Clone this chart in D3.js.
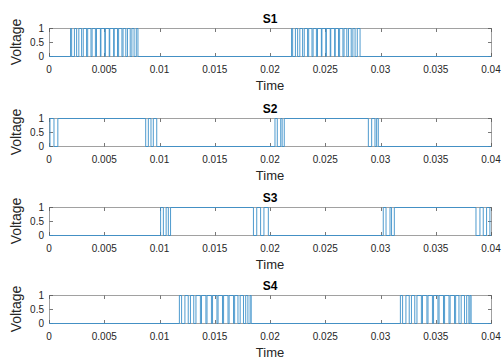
<!DOCTYPE html>
<html><head><meta charset="utf-8">
<script src="https://cdn.jsdelivr.net/npm/d3@7"></script>
<style>body{margin:0;background:#fff}svg{display:block}text{font-family:"Liberation Sans",Arial,sans-serif}</style>
</head><body><div id="chart"></div>
<script>
const titles = ["S1","S2","S3","S4"];
const xTicks = [0,0.005,0.01,0.015,0.02,0.025,0.03,0.035,0.04];
const xTickLabels = ["0","0.005","0.01","0.015","0.02","0.025","0.03","0.035","0.04"];
const yTicks = [0,0.5,1];
const yTickLabels = ["0","0.5","1"];
// intervals [start,end] in seconds where the signal equals 1
const s1On = [[0.00195,0.00205],[0.0023,0.0025],[0.0027,0.00295],[0.0031,0.0034],[0.0035,0.0038],[0.0039,0.0042],[0.0043,0.00465],[0.0047,0.00505],[0.0051,0.00545],[0.0055,0.00585],[0.0059,0.0062],[0.0063,0.0066],[0.0067,0.00695],[0.0071,0.00735],[0.0075,0.0077],[0.0079,0.00805],
  [0.02195,0.02205],[0.0223,0.0225],[0.0227,0.02295],[0.0231,0.0234],[0.0235,0.0238],[0.0239,0.0242],[0.0243,0.02465],[0.0247,0.02505],[0.0251,0.02545],[0.0255,0.02585],[0.0259,0.0262],[0.0263,0.0266],[0.0267,0.02695],[0.0271,0.02735],[0.0275,0.0277],[0.0279,0.02815]];
const s2On = [[0.00009,0.00045],[0.0008,0.00875],[0.00899,0.00923],[0.00944,0.00975],
  [0.02045,0.02066],[0.02097,0.0211],[0.02129,0.0289],[0.0292,0.0295],[0.02965,0.0298]];
const s3On = [[0.0101,0.01035],[0.0106,0.0108],[0.0110,0.0185],[0.0188,0.01915],[0.01945,0.01985],
  [0.03025,0.0305],[0.03086,0.0310],[0.03125,0.03864],[0.0390,0.0393],[0.0396,0.0399]];
const s4On = [[0.0118,0.0120],[0.0123,0.0126],[0.0128,0.0131],[0.0133,0.0137],[0.0138,0.0142],[0.0143,0.0147],[0.0148,0.0152],[0.0153,0.0157],[0.0158,0.0162],[0.0163,0.0167],[0.0168,0.0171],[0.0173,0.0176],[0.0178,0.0180],[0.0182,0.0183],
  [0.0318,0.0320],[0.0323,0.0326],[0.0328,0.0331],[0.0333,0.0337],[0.0338,0.0342],[0.0343,0.0347],[0.0348,0.0352],[0.0353,0.0357],[0.0358,0.0362],[0.0363,0.0367],[0.0368,0.0371],[0.0373,0.0376],[0.0378,0.0380],[0.0381,0.0382]];
const signals = [s1On, s2On, s3On, s4On];

const W = 504, H = 362;
const left = 49, right = 491, plotH = 28;
const tops = [28, 118, 207, 295];
const lineColor = "#3a8fc8";
const svg = d3.select("#chart").append("svg").attr("width", W).attr("height", H);
const x = d3.scaleLinear().domain([0, 0.04]).range([left, right]);

signals.forEach((on, i) => {
  const top = tops[i];
  const y = d3.scaleLinear().domain([0, 1]).range([top + plotH, top]);
  const g = svg.append("g");
  g.append("rect").attr("x", left + 0.5).attr("y", top + 0.5).attr("width", right - left).attr("height", plotH)
    .attr("fill", "#fff").attr("stroke", "#8a8a8a").attr("stroke-width", 0.8);
  xTicks.forEach(t => {
    const xx = Math.round(x(t)) + 0.5;
    g.append("line").attr("x1", xx).attr("x2", xx).attr("y1", top + plotH + 0.5).attr("y2", top + plotH - 3).attr("stroke", "#555").attr("stroke-width", 0.8);
    g.append("line").attr("x1", xx).attr("x2", xx).attr("y1", top + 0.5).attr("y2", top + 4).attr("stroke", "#555").attr("stroke-width", 0.8);
  });
  yTicks.forEach(t => {
    const yy = Math.round(y(t)) + 0.5;
    g.append("line").attr("x1", left + 0.5).attr("x2", left + 4).attr("y1", yy).attr("y2", yy).attr("stroke", "#555").attr("stroke-width", 0.8);
    g.append("line").attr("x1", right + 0.5).attr("x2", right - 3).attr("y1", yy).attr("y2", yy).attr("stroke", "#555").attr("stroke-width", 0.8);
  });
  const pts = [[0, 0]];
  on.forEach(([s, e]) => { pts.push([s, 0], [s, 1], [e, 1], [e, 0]); });
  pts.push([0.04, 0]);
  const line = d3.line().x(d => x(d[0])).y(d => y(d[1]) + 0.5);
  g.append("path").attr("d", line(pts)).attr("fill", "none").attr("stroke", lineColor).attr("stroke-width", 0.9);
  g.selectAll(".xl").data(xTicks).enter().append("text")
    .attr("x", d => x(d)).attr("y", top + plotH + 17).attr("text-anchor", "middle")
    .attr("font-size", 10).attr("fill", "#262626").text((d, j) => xTickLabels[j]);
  g.selectAll(".yl").data(yTicks).enter().append("text")
    .attr("x", left - 5).attr("y", d => y(d) + 3.5).attr("text-anchor", "end")
    .attr("font-size", 10).attr("fill", "#262626").text((d, j) => yTickLabels[j]);
  g.append("text").attr("x", (left + right) / 2).attr("y", top - 5).attr("text-anchor", "middle")
    .attr("font-size", 12).attr("font-weight", "bold").attr("fill", "#000").text(titles[i]);
  g.append("text").attr("x", (left + right) / 2).attr("y", top + plotH + 34).attr("text-anchor", "middle")
    .attr("font-size", 13).attr("fill", "#262626").text("Time");
  g.append("text").attr("transform", `translate(21,${top + plotH / 2}) rotate(-90)`).attr("text-anchor", "middle")
    .attr("font-size", 14).attr("fill", "#262626").text("Voltage");
});
</script></body></html>
